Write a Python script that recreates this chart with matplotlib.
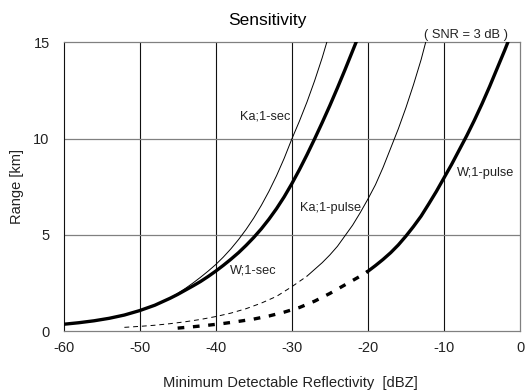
import matplotlib
matplotlib.use('Agg')
import matplotlib.pyplot as plt

plt.rcParams['font.family'] = ['Liberation Sans', 'DejaVu Sans']
plt.rcParams['axes.unicode_minus'] = False

# Ka; 1-sec (thin solid)
ka_sec_z = [-60, -58, -56, -54, -52, -50, -48, -46, -45, -44, -43, -42, -41, -40, -39, -38, -37, -36,
            -35, -34, -33, -32, -31, -30, -29, -28, -27, -26, -25.4]
ka_sec_r = [0.35, 0.43, 0.53, 0.66, 0.83, 1.06, 1.34, 1.7, 1.95, 2.21, 2.49, 2.79, 3.11, 3.45, 3.84, 4.27,
            4.75, 5.28, 5.87, 6.53, 7.26, 8.07, 8.97, 9.97, 10.9, 11.9, 13.0, 14.2, 15.0]

# W; 1-sec (thick solid)
w_sec_z = [-60, -58, -56, -54, -52, -50, -48, -46, -45, -44, -43, -42, -41, -40, -39, -38, -37, -36,
           -35, -34, -33, -32, -31, -30, -29, -28, -27, -26, -25, -24, -23, -22, -21.5]
w_sec_r = [0.35, 0.43, 0.53, 0.66, 0.83, 1.06, 1.34, 1.7, 1.9, 2.12, 2.34, 2.57, 2.83, 3.11, 3.41, 3.73,
           4.07, 4.45, 4.86, 5.31, 5.81, 6.36, 6.97, 7.65, 8.38, 9.16, 9.98, 10.83, 11.71, 12.63, 13.58,
           14.56, 15.05]

# Ka; 1-pulse (thin, dashed at low range)
ka_pulse_dash_z = [-52, -50, -48, -46, -44, -42, -40, -38, -36, -34, -32, -30, -28]
ka_pulse_dash_r = [0.19, 0.24, 0.3, 0.38, 0.48, 0.6, 0.75, 0.93, 1.16, 1.45, 1.8, 2.3, 2.85]
ka_pulse_z = [-28, -27, -26, -25, -24, -23, -22, -21, -20, -19, -18, -17, -16, -15, -14, -13, -12.4]
ka_pulse_r = [2.85, 3.2, 3.55, 3.95, 4.4, 4.95, 5.5, 6.15, 6.85, 7.6, 8.5, 9.5, 10.5, 11.6, 12.8, 14.1, 15.0]

# W; 1-pulse (thick, dashed at low range)
w_pulse_dash_z = [-45, -43, -41, -39, -37, -35, -33, -31, -29, -27, -25, -23, -21, -20]
w_pulse_dash_r = [0.15, 0.22, 0.3, 0.39, 0.5, 0.62, 0.78, 0.98, 1.22, 1.55, 1.95, 2.4, 2.85, 3.1]
w_pulse_z = [-20, -19, -18, -17, -16, -15, -14, -13, -12, -11, -10, -9, -8, -7, -6, -5, -4, -3, -2, -1.5]
w_pulse_r = [3.1, 3.4, 3.72, 4.07, 4.47, 4.93, 5.43, 5.97, 6.6, 7.25, 7.95, 8.65, 9.4, 10.15, 10.95,
             11.8, 12.7, 13.65, 14.6, 15.1]

txt = '#222222'

fig = plt.figure(figsize=(5.25, 3.92), dpi=100)
ax = fig.add_axes([0.121, 0.1556, 0.8695, 0.7364])

# grid: vertical dark, horizontal gray
for x in [-50, -40, -30, -20, -10]:
    ax.axvline(x, color='#111111', lw=0.8, zorder=1)
for y in [5, 10]:
    ax.axhline(y, color='#808080', lw=0.9, zorder=1)

ax.plot(ka_sec_z, ka_sec_r, color='black', lw=0.7, zorder=3)
ax.plot(w_sec_z, w_sec_r, color='black', lw=2.4, zorder=3)
ax.plot(ka_pulse_dash_z, ka_pulse_dash_r, color='black', lw=0.7, dashes=(5, 4), zorder=3)
ax.plot(ka_pulse_z, ka_pulse_r, color='black', lw=0.7, zorder=3)
ax.plot(w_pulse_dash_z, w_pulse_dash_r, color='black', lw=2.4, dashes=(2, 2.6), zorder=3)
ax.plot(w_pulse_z, w_pulse_r, color='black', lw=2.4, zorder=3)

ax.set_xlim(-60, 0)
ax.set_ylim(0, 15)
ax.set_xticks([-60, -50, -40, -30, -20, -10, 0])
ax.set_yticks([0, 5, 10, 15])
ax.tick_params(length=0, labelsize=10.5, labelcolor=txt)
ax.tick_params(axis='x', pad=7)
ax.tick_params(axis='y', pad=10)

for s in ['top', 'bottom', 'right']:
    ax.spines[s].set_color('#808080')
    ax.spines[s].set_linewidth(0.9)
ax.spines['left'].set_color('#111111')
ax.spines['left'].set_linewidth(0.8)

ax.text(-30.2, 11.17, 'Ka;1-sec', ha='right', va='center', fontsize=9.2, color=txt, zorder=4)
ax.text(-24.85, 6.37, 'Ka;1-pulse', ha='center', va='center', fontsize=9.2, color=txt, zorder=4)
ax.text(-35.0, 3.12, 'W;1-sec', ha='center', va='center', fontsize=9.2, color=txt, zorder=4)
ax.text(-4.5, 8.19, 'W;1-pulse', ha='center', va='center', fontsize=9.2, color=txt, zorder=4)
ax.text(-7.15, 15.4, '( SNR = 3 dB )', ha='center', va='center', fontsize=9.3, color=txt, clip_on=False)

fig.text(267 / 525, 1 - 20.7 / 392, 'Sensitivity', ha='center', va='center', fontsize=12.5, color='black')
fig.text(290 / 525, 1 - 383 / 392, 'Minimum Detectable Reflectivity  [dBZ]', ha='center', va='center',
         fontsize=10.6, color=txt)
fig.text(17 / 525, 1 - 186 / 392, 'Range [km]', ha='center', va='center', rotation=90, fontsize=10.5, color=txt)

fig.savefig('out.png', dpi=100)
